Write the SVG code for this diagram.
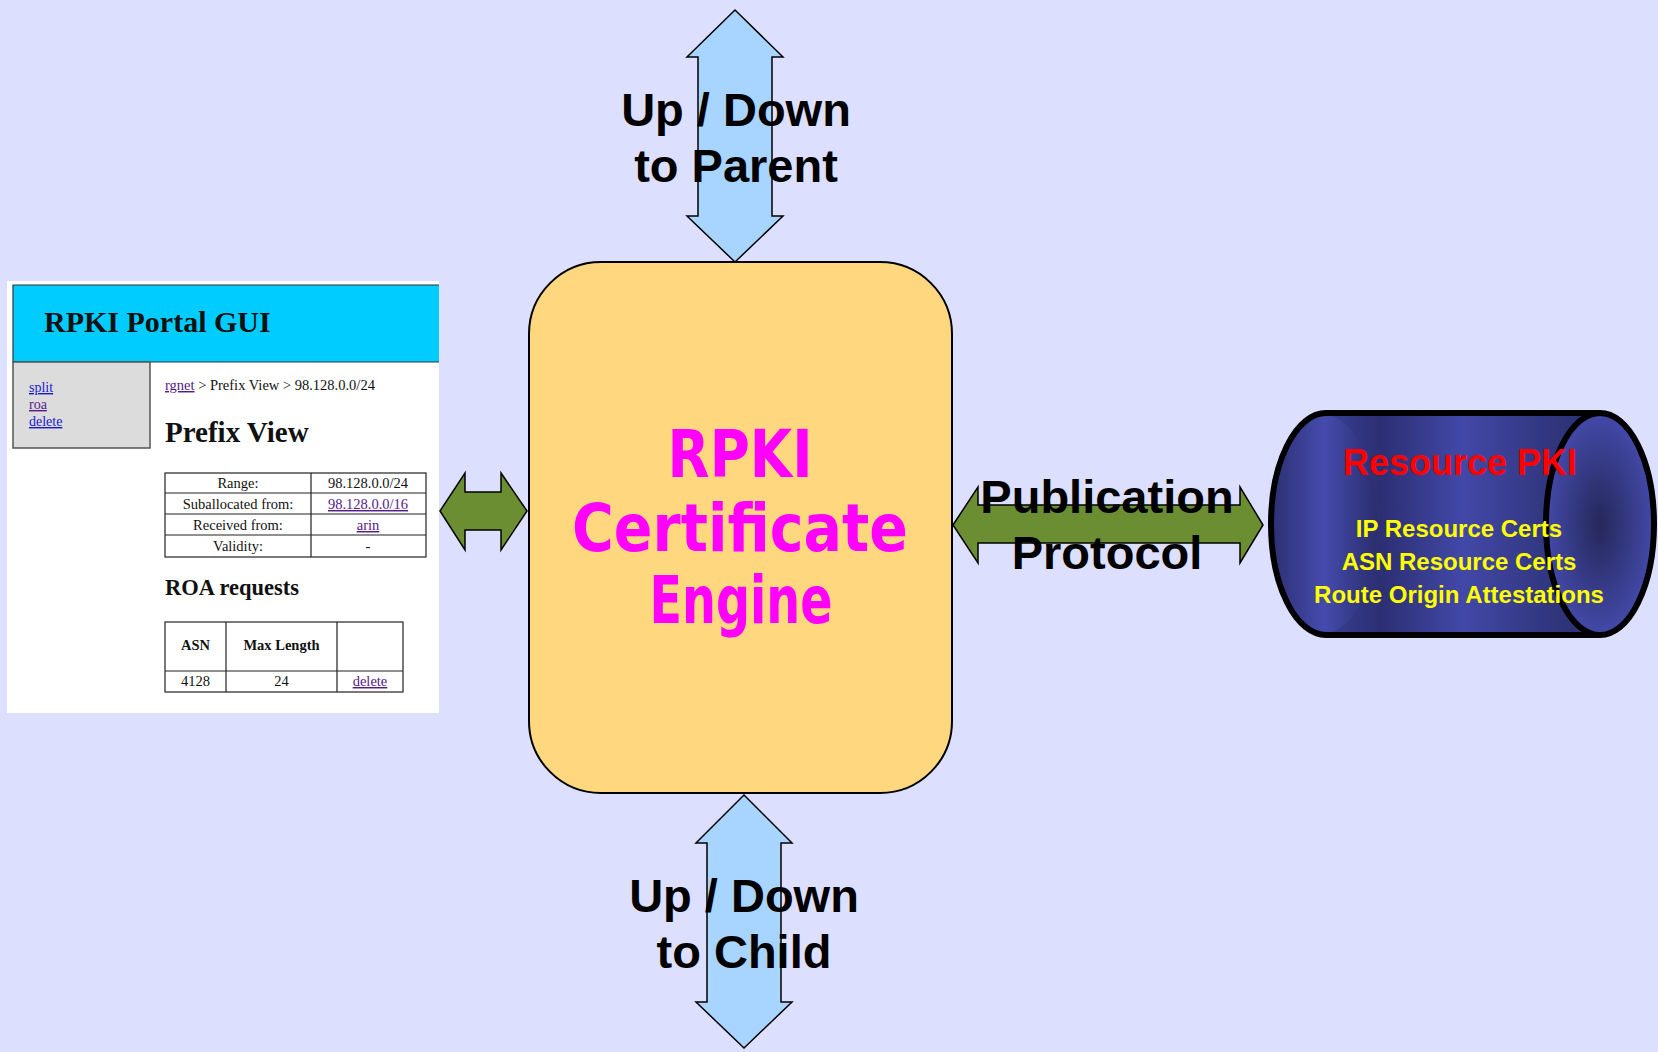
<svg xmlns="http://www.w3.org/2000/svg" width="1658" height="1052" viewBox="0 0 1658 1052">
<style>
.bg{fill:#DDDFFE}
.gui{font-family:"Liberation Serif","Times New Roman",serif;fill:#111}
.lnk{fill:#1A1ACC;text-decoration:underline}
.vis{fill:#551A8B;text-decoration:underline}
.tc{text-anchor:middle;font-size:14.5px}
.cell{fill:none;stroke:#222;stroke-width:1.2}
.blue{fill:#A8D5FF;stroke:#000;stroke-width:1.5}
.green{fill:#6B8E32;stroke:#000;stroke-width:1.5}
.lbl{font-family:"Liberation Sans",Arial,sans-serif;font-weight:bold;font-size:47px;fill:#000;text-anchor:middle}
.eng{font-family:"Comic Sans MS","DejaVu Sans",sans-serif;font-weight:bold;font-size:65px;fill:#FF00FF;text-anchor:middle}
.cyl{font-family:"Liberation Sans",Arial,sans-serif;font-weight:bold;text-anchor:middle}
</style>
<defs>
<linearGradient id="bodyG" x1="1326" y1="0" x2="1600" y2="0" gradientUnits="userSpaceOnUse">
<stop offset="0" stop-color="#3A3F95"/>
<stop offset="0.2" stop-color="#2C2F72"/>
<stop offset="0.5" stop-color="#4248A8"/>
<stop offset="0.85" stop-color="#30347A"/>
<stop offset="1" stop-color="#2C2F72"/>
</linearGradient>
<linearGradient id="leftG" x1="1270" y1="0" x2="1378" y2="0" gradientUnits="userSpaceOnUse">
<stop offset="0" stop-color="#2C2F70"/>
<stop offset="0.5" stop-color="#454BAD"/>
<stop offset="1" stop-color="#2A2D6C"/>
</linearGradient>
<radialGradient id="rightG" cx="0.5" cy="0.5" r="0.5">
<stop offset="0" stop-color="#25285A"/>
<stop offset="1" stop-color="#4349A8"/>
</radialGradient>
</defs>
<rect class="bg" x="0" y="0" width="1658" height="1052"/>

<g id="portal-gui">
<rect x="7" y="281" width="432" height="432" fill="#FFFFFF"/>
<rect x="13" y="285" width="426" height="77" fill="#00CCFF"/>
<path d="M439 285 H13 V362 H439" fill="none" stroke="#333" stroke-width="1.2"/>
<text class="gui" x="44" y="332" font-size="30" font-weight="bold">RPKI Portal GUI</text>
<rect x="13" y="362" width="137" height="86" fill="#DCDCDC" stroke="#555" stroke-width="1.5"/>
<text class="gui lnk" x="29" y="392" font-size="14">split</text>
<text class="gui vis" x="29" y="409" font-size="14">roa</text>
<text class="gui lnk" x="29" y="426" font-size="14">delete</text>
<text class="gui" x="165" y="390" font-size="14.5"><tspan class="vis">rgnet</tspan> &gt; Prefix View &gt; 98.128.0.0/24</text>
<text class="gui" x="165" y="442" font-size="29" font-weight="bold">Prefix View</text>
<rect class="cell" x="165" y="473" width="261" height="84"/>
<path class="cell" d="M165 493 H426 M165 514 H426 M165 535 H426 M311 473 V557"/>
<text class="gui tc" x="238" y="488">Range:</text>
<text class="gui tc" x="238" y="509">Suballocated from:</text>
<text class="gui tc" x="238" y="530">Received from:</text>
<text class="gui tc" x="238" y="551">Validity:</text>
<text class="gui tc" x="368" y="488">98.128.0.0/24</text>
<text class="gui tc vis" x="368" y="509">98.128.0.0/16</text>
<text class="gui tc vis" x="368" y="530">arin</text>
<text class="gui tc" x="368" y="551">-</text>
<text class="gui" x="165" y="595" font-size="22.5" font-weight="bold">ROA requests</text>
<rect class="cell" x="165" y="622" width="238" height="70"/>
<path class="cell" d="M165 671 H403 M226 622 V692 M337 622 V692"/>
<text class="gui tc" x="195.5" y="650" font-weight="bold">ASN</text>
<text class="gui tc" x="281.5" y="650" font-weight="bold">Max Length</text>
<text class="gui tc" x="195.5" y="686">4128</text>
<text class="gui tc" x="281.5" y="686">24</text>
<text class="gui tc vis" x="370" y="686">delete</text>
</g>

<g id="engine">
<rect x="529" y="262" width="423" height="531" rx="72" ry="72" fill="#FED77F" stroke="#000" stroke-width="2"/>
<text class="eng" x="740" y="477" textLength="145" lengthAdjust="spacingAndGlyphs">RPKI</text>
<text class="eng" x="740" y="551" textLength="336" lengthAdjust="spacingAndGlyphs">Certificate</text>
<text class="eng" x="741" y="623" textLength="183" lengthAdjust="spacingAndGlyphs">Engine</text>
</g>

<g id="resource-pki">
<path d="M1326 413 H1600 V635 H1326 A55 111 0 0 1 1326 413 Z" fill="url(#bodyG)"/>
<ellipse cx="1324" cy="524" rx="53" ry="109" fill="url(#leftG)"/>
<path d="M1326 413 H1600 M1600 635 H1326 A55 111 0 0 1 1326 413" fill="none" stroke="#000" stroke-width="6"/>
<ellipse cx="1600" cy="524" rx="54" ry="111" fill="url(#rightG)" stroke="#000" stroke-width="6"/>
<text class="cyl" x="1460" y="475" font-size="36" fill="#FF0000">Resource PKI</text>
<text class="cyl" x="1459" y="537" font-size="24" fill="#FFFF00">IP Resource Certs</text>
<text class="cyl" x="1459" y="570" font-size="24" fill="#FFFF00">ASN Resource Certs</text>
<text class="cyl" x="1459" y="603" font-size="24" fill="#FFFF00">Route Origin Attestations</text>
</g>

<g id="connectors">
<polygon class="blue" points="735,10 783,57 772,57 772,216 783,216 735,262 687,216 698,216 698,57 687,57"/>
<polygon class="blue" points="744,795 792,843 781,843 781,1002 792,1002 744,1048 696,1002 707,1002 707,843 696,843"/>
<polygon class="green" points="440,511 465,473 465,492 501,492 501,473 527,511 501,550 501,530 465,530 465,550"/>
<polygon class="green" points="953,525 978,487 978,505 1240,505 1240,487 1263,525 1240,563 1240,543 978,543 978,563"/>
<text class="lbl" x="736" y="126">Up / Down</text>
<text class="lbl" x="736" y="182">to Parent</text>
<text class="lbl" x="744" y="912">Up / Down</text>
<text class="lbl" x="744" y="968">to Child</text>
<text class="lbl" x="1107" y="513">Publication</text>
<text class="lbl" x="1107" y="569">Protocol</text>
</g>
</svg>
